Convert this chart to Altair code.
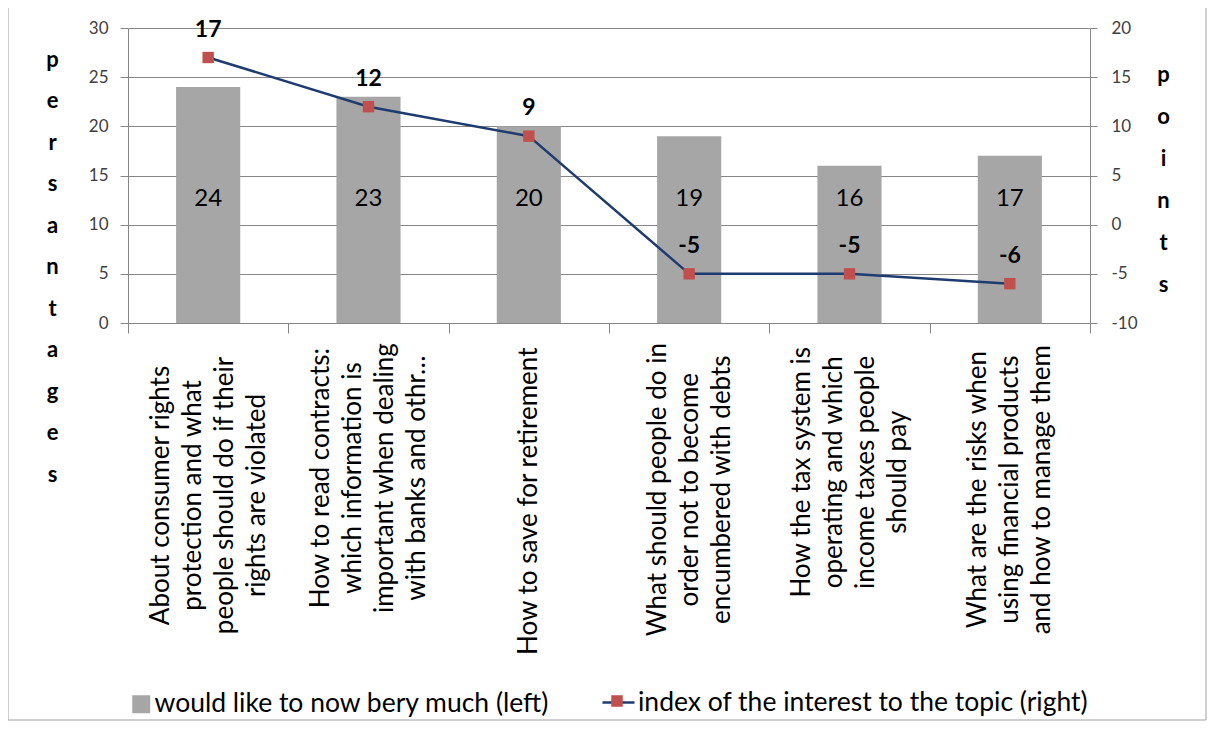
import altair as alt
import pandas as pd

categories = [
    "About consumer rights\nprotection and what\npeople should do if their\nrights are violated",
    "How to read contracts:\nwhich information is\nimportant when dealing\nwith banks and othr\u2026",
    "How to save for retirement",
    "What should people do in\norder not to  become\nencumbered with debts",
    "How the tax system is\noperating and which\nincome taxes people\nshould pay",
    "What are the risks when\nusing financial products\nand how to manage them",
]
bar_values = [24, 23, 20, 19, 16, 17]
index_values = [17, 12, 9, -5, -5, -6]
bar_series = "would like to now bery much (left)"
line_series = "index of the interest to the topic (right)"
left_ticks = [0, 5, 10, 15, 20, 25, 30]
right_ticks = [-10, -5, 0, 5, 10, 15, 20]

df = pd.DataFrame({
    "cat": categories,
    "bar": bar_values,
    "idx": index_values,
    "idx_label": [str(v) for v in index_values],
    "bs": [bar_series] * len(categories),
    "ls": [line_series] * len(categories),
    "ps": [line_series] * len(categories),
})

FONT = "Lato"
GRAY = "#868686"
BAR = "#A6A6A6"
NAVY = "#1F3C70"
RED = "#C0504D"
LINE_H = 32
CHAR_W = 11.6

SPLIT = "split(datum.value, '\\n')"
maxlen = "max(" + ", ".join(
    "length(%s[%d] || '')" % (SPLIT, i) for i in range(4)) + ")"
pad_expr = "17 + %s * %s / 2" % (maxlen, CHAR_W)
off_expr = "-(length(%s) - 1) * %s" % (SPLIT, LINE_H / 2)

xenc = alt.X(
    "cat:N", sort=None, title=None,
    scale=alt.Scale(paddingInner=0, paddingOuter=0),
    axis=alt.Axis(
        labelAngle=270, labelAlign="center", labelBaseline="middle",
        labelExpr="split(datum.label, '\\n')", labelFont=FONT, labelFontSize=26,
        labelLineHeight=LINE_H, labelColor="black", labelLimit=0,
        labelPadding={"expr": pad_expr},
        labelOffset={"expr": off_expr},
        tickBand="extent", tickSize=10, tickColor=GRAY, domainColor=GRAY,
        labelOverlap=False,
    ),
)

base = alt.Chart(df)

bars = base.mark_bar(width=alt.RelativeBandSize(0.4)).encode(
    x=xenc,
    y=alt.Y("bar:Q", scale=alt.Scale(domain=[0, 30]),
            axis=alt.Axis(values=left_ticks, title=list("persantages"), titleAngle=0,
                          titleFont=FONT, titleFontSize=22, titleFontWeight="bold",
                          titleLineHeight=41.5, titleX=-76, titleY=38,
                          titleAlign="center", titleBaseline="alphabetic",
                          titleColor="black",
                          labelFont=FONT, labelFontSize=17, labelColor="#404040",
                          labelPadding=12, tickSize=8, tickColor=GRAY,
                          domainColor=GRAY, grid=True, gridColor=GRAY)),
    color=alt.Color("bs:N", scale=alt.Scale(range=[BAR]),
                    legend=alt.Legend(orient="none", legendX=0, legendY=663, title=None,
                                      symbolType="square", symbolSize=324,
                                      symbolStrokeWidth=0, labelFont=FONT,
                                      labelFontSize=26.5, labelColor="black",
                                      labelLimit=0, labelOffset=0)),
)

bar_text = base.mark_text(font=FONT, fontSize=24, color="black").encode(
    x=xenc,
    y=alt.datum(12.6),
    text="bar:Q",
)

left = alt.layer(bars, bar_text)

yr = alt.Y("idx:Q", scale=alt.Scale(domain=[-10, 20]),
           axis=alt.Axis(orient="right", values=right_ticks, title=list("points"),
                         labelExpr="datum.value + ''",
                         titleAngle=0, titleFont=FONT, titleFontSize=22,
                         titleFontWeight="bold", titleLineHeight=42, titleX=73,
                         titleY=53, titleAlign="center", titleBaseline="alphabetic",
                         titleColor="black",
                         labelFont=FONT, labelFontSize=17, labelColor="#404040",
                         labelPadding=14, tickSize=7, tickColor=GRAY,
                         domainColor=GRAY, grid=False))

line = base.mark_line(strokeWidth=2.5).encode(
    x=xenc, y=yr,
    stroke=alt.Stroke("ls:N", scale=alt.Scale(range=[NAVY]),
                      legend=alt.Legend(orient="none", legendX=473, legendY=657,
                                        title=None, symbolType="M-1,0H1",
                                        symbolSize=1024, symbolStrokeWidth=2.5,
                                        labelFont=FONT, labelFontSize=26.5,
                                        labelColor="black", labelLimit=0,
                                        labelOffset=2)),
)

points = base.mark_square(size=130, opacity=1).encode(
    x=xenc, y=yr,
    fill=alt.Fill("ps:N", scale=alt.Scale(range=[RED]),
                  legend=alt.Legend(orient="none", legendX=473, legendY=657,
                                    title=None,
                                    symbolType="M-0.36,-0.36H0.36V0.36H-0.36Z",
                                    symbolSize=1024, symbolStrokeWidth=0,
                                    labelExpr="''", labelFont=FONT, labelFontSize=26.5,
                                    labelLimit=0, labelOffset=2)),
)

pt_text = base.mark_text(font=FONT, fontSize=23, fontWeight="bold", color="black",
                         dy=-28).encode(
    x=xenc, y=yr, text="idx_label:N",
)

right = alt.layer(line, points, pt_text)

frame = alt.Chart(pd.DataFrame({"f": [0]})).mark_rect(
    filled=False, stroke="#A0A0A0", strokeWidth=1
).encode(x=alt.value(-120), x2=alt.value(1078), y=alt.value(-21), y2=alt.value(692))

chart = alt.layer(left, right, frame).resolve_scale(
    y="independent", color="independent", stroke="independent", fill="independent"
).properties(
    width=962, height=295,
    autosize=alt.AutoSizeParams(type="none"),
    padding={"left": 120, "top": 20, "right": 117, "bottom": 404},
).configure_view(stroke=None)

chart.save("out.html", embed_options={"renderer": "svg", "actions": False})
